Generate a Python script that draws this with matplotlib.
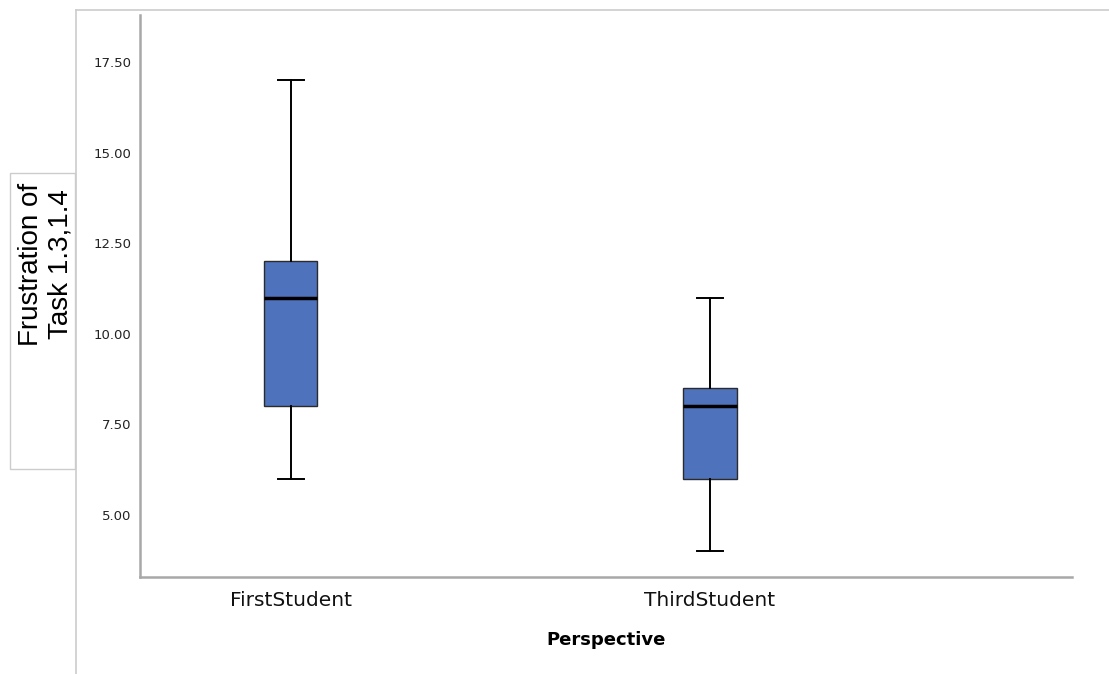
import matplotlib.pyplot as plt
from matplotlib.patches import Rectangle
from matplotlib.lines import Line2D

# box statistics
groups = ['FirstStudent', 'ThirdStudent']
whis_low = [6.0, 4.0]
q1 = [8.0, 6.0]
median = [11.0, 8.0]
q3 = [12.0, 8.5]
whis_high = [17.0, 11.0]
yticks = [5.0, 7.5, 10.0, 12.5, 15.0, 17.5]

stats = []
for i in range(len(groups)):
    stats.append({'label': groups[i], 'whislo': whis_low[i], 'q1': q1[i],
                  'med': median[i], 'q3': q3[i], 'whishi': whis_high[i], 'fliers': []})

fig = plt.figure(figsize=(11.09, 6.74), dpi=100)
ax = fig.add_axes([140/1109, 1-577/674, (1072-140)/1109, (577-15)/674])

ax.bxp(stats, positions=[1, 2], widths=0.127, patch_artist=True, showfliers=False,
       boxprops=dict(facecolor='#4f72bd', edgecolor='#2b2b2b', linewidth=1.0),
       medianprops=dict(color='black', linewidth=2.5),
       whiskerprops=dict(color='black', linewidth=1.4),
       capprops=dict(color='black', linewidth=1.4),
       capwidths=0.063)

ax.set_xlim(0.64, 2.864)
ax.set_ylim(3.29, 18.8)
ax.set_yticks(yticks)
ax.set_yticklabels([f'{v:.2f}' for v in yticks], fontsize=9.5, color='#222222')
ax.set_xticks([1, 2])
ax.set_xticklabels(groups, fontsize=14.5, color='#111111')
ax.tick_params(length=0)
ax.tick_params(axis='y', pad=6)
ax.tick_params(axis='x', pad=10)
ax.set_xlabel('Perspective', fontsize=13, fontweight='bold', labelpad=15)
for s in ['top', 'right']:
    ax.spines[s].set_visible(False)
for s in ['left', 'bottom']:
    ax.spines[s].set_color('#a8a8a8')
    ax.spines[s].set_linewidth(1.8)

# outer light frame and the y-label box
fig.add_artist(Line2D([76/1109, 1], [1-10/674, 1-10/674], color='#cccccc', lw=1.2, transform=fig.transFigure))
fig.add_artist(Line2D([76/1109, 76/1109], [1-10/674, 0], color='#cccccc', lw=1.2, transform=fig.transFigure))
fig.add_artist(Rectangle((10/1109, 1-469/674), 65/1109, 296/674, transform=fig.transFigure,
                         facecolor='white', edgecolor='#cccccc', lw=1.0))
fig.text(46/1109, 1-264/674, 'Frustration of\nTask 1.3,1.4', rotation=90, ha='center', va='center',
         multialignment='center', fontsize=20, family='Liberation Sans', linespacing=1.15)

fig.savefig('out.png', dpi=100)
